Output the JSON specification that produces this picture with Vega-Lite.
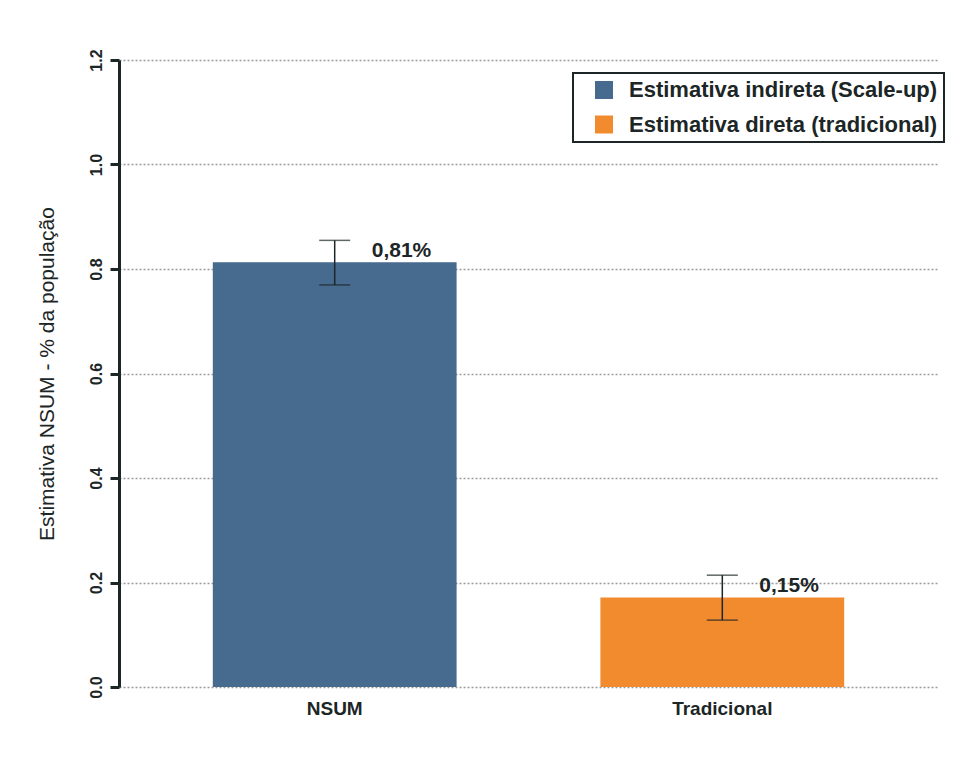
{
  "$schema": "https://vega.github.io/schema/vega-lite/v6.json",
  "autosize": {"type": "none"},
  "padding": {"left": 119, "top": 60, "right": 20, "bottom": 71},
  "width": 819,
  "height": 627,
  "background": "white",
  "config": {
    "view": {"stroke": null},
    "font": "Liberation Sans",
    "axis": {"labelColor": "#1c2626", "titleColor": "#1c2626"},
    "legend": {"strokeWidth": 2}
  },
  "data": {
    "values": [
      {"grupo": "NSUM", "tipo": "Estimativa indireta (Scale-up)", "valor": 0.8127, "inf": 0.7695, "sup": 0.8548, "rotulo": "0,81%"},
      {"grupo": "Tradicional", "tipo": "Estimativa direta (tradicional)", "valor": 0.1714, "inf": 0.128, "sup": 0.214, "rotulo": "0,15%"}
    ]
  },
  "encoding": {
    "x": {
      "field": "grupo",
      "type": "nominal",
      "sort": null,
      "scale": {"paddingInner": 0.371, "paddingOuter": 0.242},
      "axis": {
        "title": null,
        "labelAngle": 0,
        "ticks": false,
        "domain": false,
        "grid": false,
        "labelFontSize": 19,
        "labelFontWeight": "bold",
        "labelPadding": 12
      }
    }
  },
  "layer": [
    {
      "mark": {"type": "bar"},
      "encoding": {
        "y": {
          "field": "valor",
          "type": "quantitative",
          "scale": {"domain": [0, 1.2], "nice": false},
          "axis": {
            "title": "Estimativa NSUM - % da população",
            "titleFontSize": 21,
            "titleFontWeight": "normal",
            "titlePadding": 31,
            "values": [0, 0.2, 0.4, 0.6, 0.8, 1.0, 1.2],
            "format": ".1f",
            "labelAngle": -90,
            "labelFontSize": 16,
            "labelFontWeight": "bold",
            "labelPadding": 6,
            "domainColor": "#1c2626",
            "domainWidth": 3,
            "tickColor": "#1c2626",
            "tickWidth": 3,
            "tickSize": 9,
            "grid": true,
            "gridColor": "#9a9a9a",
            "gridDash": [2, 2],
            "gridWidth": 1.5
          }
        },
        "color": {
          "field": "tipo",
          "type": "nominal",
          "sort": null,
          "scale": {
            "domain": ["Estimativa indireta (Scale-up)", "Estimativa direta (tradicional)"],
            "range": ["#476a8f", "#f28a2e"]
          },
          "legend": {
            "title": null,
            "orient": "none",
            "legendX": 454,
            "legendY": 13,
            "symbolType": "square",
            "symbolSize": 324,
            "symbolStrokeWidth": 0,
            "symbolOffset": 14,
            "labelFontSize": 22,
            "labelFontWeight": "bold",
            "labelColor": "#1c2626",
            "labelOffset": 14,
            "labelLimit": 400,
            "rowPadding": 12.5,
            "padding": 6,
            "strokeColor": "#1c2626",
            "fillColor": "white",
            "cornerRadius": 0
          }
        }
      }
    },
    {
      "mark": {"type": "rule", "color": "#1c2626", "strokeWidth": 1.5},
      "encoding": {
        "y": {"field": "inf", "type": "quantitative"},
        "y2": {"field": "sup"}
      }
    },
    {
      "mark": {"type": "tick", "color": "#1c2626", "thickness": 1.5, "size": 31, "orient": "horizontal"},
      "encoding": {
        "y": {"field": "inf", "type": "quantitative"}
      }
    },
    {
      "mark": {"type": "tick", "color": "#1c2626", "thickness": 1.5, "size": 31, "orient": "horizontal"},
      "encoding": {
        "y": {"field": "sup", "type": "quantitative"}
      }
    },
    {
      "mark": {"type": "text", "align": "left", "baseline": "middle", "dx": 37, "dy": -11, "fontSize": 21, "fontWeight": "bold", "color": "#1c2626"},
      "encoding": {
        "y": {"field": "valor", "type": "quantitative"},
        "text": {"field": "rotulo"}
      }
    }
  ]
}
